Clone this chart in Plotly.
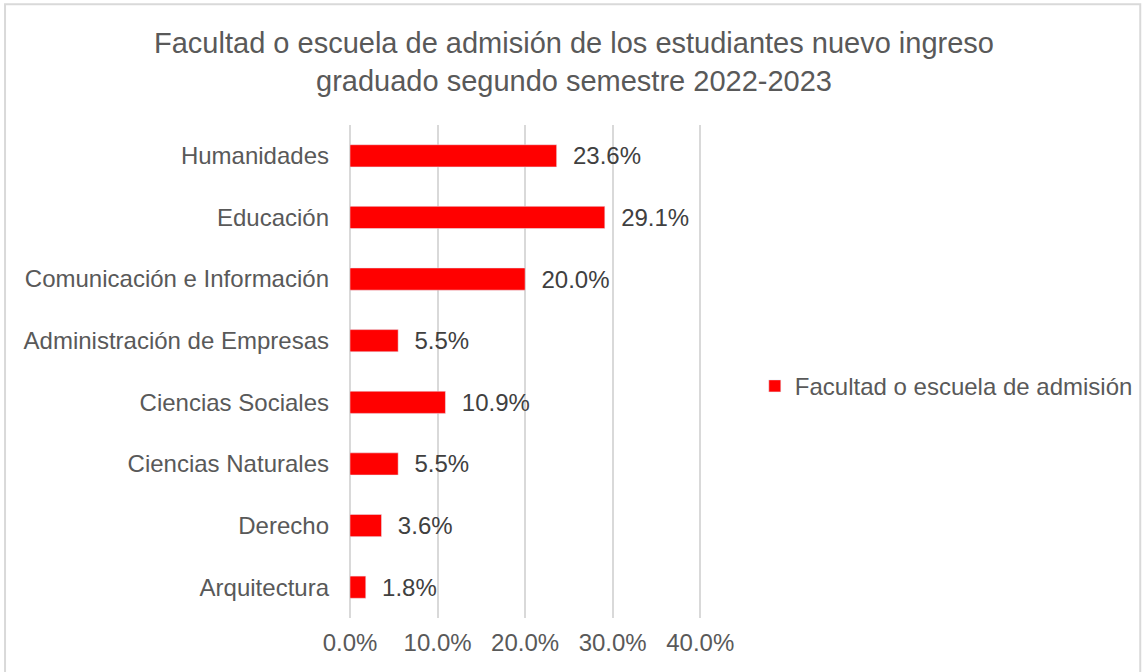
import plotly.graph_objects as go

# data
categorias = [
    "Humanidades",
    "Educación",
    "Comunicación e Información",
    "Administración de Empresas",
    "Ciencias Sociales",
    "Ciencias Naturales",
    "Derecho",
    "Arquitectura",
]
porcentajes = [0.236, 0.291, 0.200, 0.055, 0.109, 0.055, 0.036, 0.018]
ticks = [0.0, 0.1, 0.2, 0.3, 0.4]
serie = "Facultad o escuela de admisión"
titulo = ("Facultad o escuela de admisión de los estudiantes nuevo ingreso"
          "<br>graduado segundo semestre 2022-2023")

FONT = "Liberation Sans, Arial, sans-serif"

fig = go.Figure()

fig.add_trace(
    go.Bar(
        y=categorias,
        x=porcentajes,
        orientation="h",
        name=serie,
        marker=dict(color="#ff0000"),
        width=0.36,
        texttemplate="  %{x:.1%}",
        textposition="outside",
        constraintext="none",
        textfont=dict(size=24, color="#404040", family=FONT),
        cliponaxis=False,
        showlegend=True,
    )
)

fig.update_layout(
    width=1148,
    height=672,
    paper_bgcolor="white",
    plot_bgcolor="white",
    margin=dict(l=350, r=446, t=125, b=54, autoexpand=False),
    font=dict(family=FONT, color="#595959", size=24),
    title=dict(
        text=titulo,
        x=0.5,
        xref="container",
        xanchor="center",
        y=0.921,
        yref="container",
        yanchor="middle",
        font=dict(size=29, color="#595959", family=FONT),
    ),
    legend=dict(
        x=1.15,
        y=0.47,
        xanchor="left",
        yanchor="middle",
        font=dict(size=24, color="#595959"),
        itemwidth=30,
    ),
    bargap=0.64,
)

fig.update_xaxes(
    range=[0, 0.402],
    tickvals=ticks,
    tickformat=".1%",
    showgrid=True,
    gridcolor="#d9d9d9",
    gridwidth=2,
    zeroline=True,
    zerolinecolor="#d9d9d9",
    zerolinewidth=2,
    showline=False,
    ticks="",
    ticklabelstandoff=8,
    automargin=False,
    tickfont=dict(size=24, color="#595959"),
)

fig.update_yaxes(
    categoryorder="array",
    categoryarray=categorias,
    autorange="reversed",
    showgrid=False,
    showline=False,
    ticks="",
    ticklabelstandoff=20,
    automargin=False,
    tickfont=dict(size=24, color="#595959"),
)

# borde exterior del grafico
fig.add_shape(
    type="rect",
    xref="paper", yref="paper",
    x0=-0.98, x1=2.245, y0=-0.12, y1=1.245,
    line=dict(color="#d9d9d9", width=2),
    fillcolor="rgba(0,0,0,0)",
    layer="below",
)

fig.write_html(
    "out.html",
    config={"displayModeBar": False},
    post_script="document.body.style.margin='0';",
)
